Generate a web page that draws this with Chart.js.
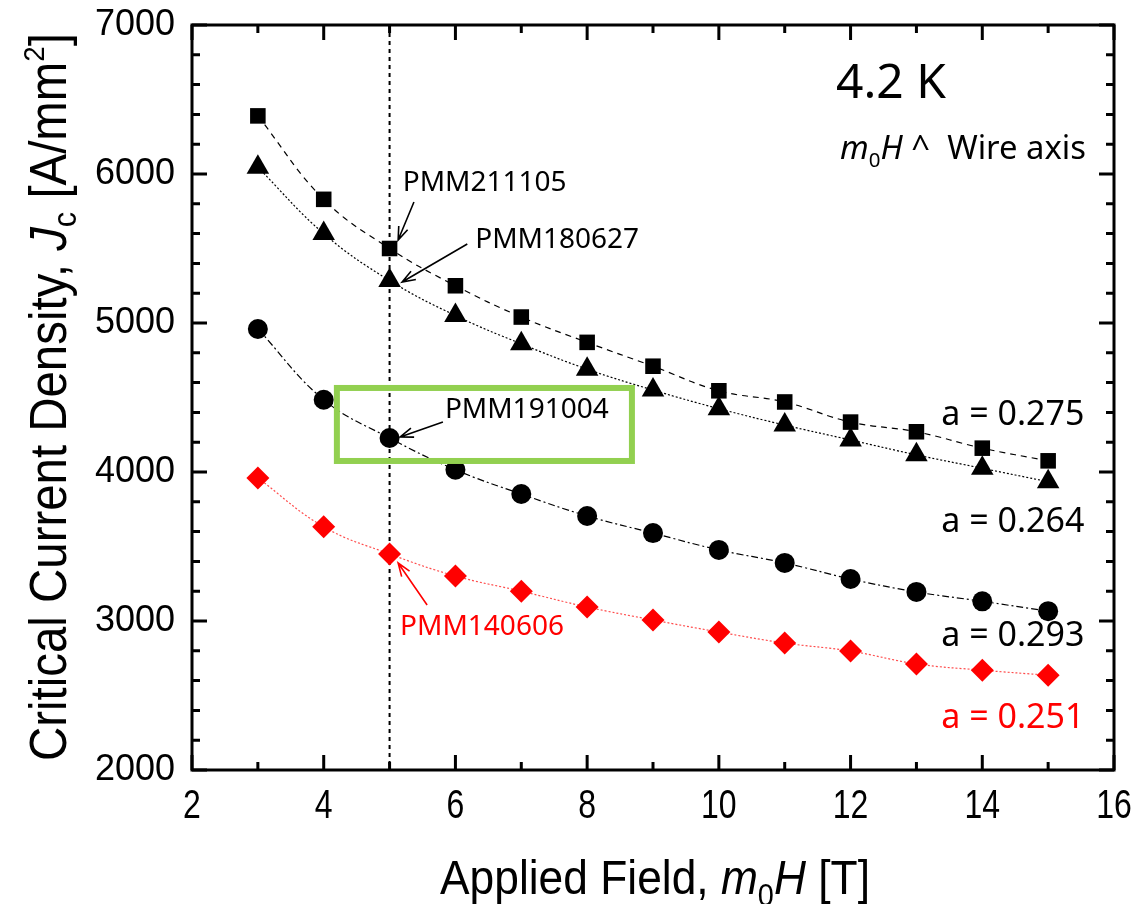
<!DOCTYPE html>
<html>
<head>
<meta charset="utf-8">
<script src="https://cdn.jsdelivr.net/npm/chart.js@4"></script>
<style>
  html, body { margin: 0; padding: 0; background: #fff; }
  #wrap { width: 1140px; height: 904px; }
</style>
</head>
<body>
<div id="wrap"><canvas id="grafico" width="1140" height="904"></canvas></div>
<script>
// Campo aplicado (T)
const campo = [3, 4, 5, 6, 7, 8, 9, 10, 11, 12, 13, 14, 15];

// Jc (A/mm2) de cada fio
const pmm211105 = [6390, 5830, 5500, 5250, 5040, 4870, 4710, 4545, 4470, 4335, 4270, 4160, 4075];
const pmm180627 = [6045, 5600, 5285, 5050, 4860, 4690, 4550, 4425, 4315, 4215, 4115, 4025, 3935];
const pmm191004 = [4960, 4485, 4228, 4015, 3852, 3705, 3590, 3477, 3390, 3282, 3195, 3132, 3066];
const pmm140606 = [3960, 3632, 3450, 3302, 3200, 3094, 3007, 2926, 2852, 2798, 2712, 2670, 2636];

// Rótulos de alfa à direita
const alfaTextos = ['a = 0.275', 'a = 0.264', 'a = 0.293', 'a = 0.251'];
const alfaY = [4383, 3664, 2899, 2349];
const alfaCores = ['#000', '#000', '#000', '#ff0000'];

const xTicks = [2, 4, 6, 8, 10, 12, 14, 16];
const yTicks = [2000, 3000, 4000, 5000, 6000, 7000];

function pontos(ys) {
    return campo.map((x, i) => ({ x: x, y: ys[i] }));
}

// Desenha texto com partes em itálico / subscrito (centrado em x)
function desenharPartes(ctx, partes, x, y, larguraAlvo) {
    let total = 0;
    partes.forEach(p => { ctx.font = p.font; p.w = ctx.measureText(p.t).width; total += p.w; });
    const esc = larguraAlvo ? larguraAlvo / total : 1;
    ctx.save();
    ctx.translate(x, y);
    ctx.scale(esc, 1);
    let cx = -total / 2;
    partes.forEach(p => {
        ctx.font = p.font;
        ctx.fillStyle = p.cor || '#000';
        ctx.textAlign = 'left';
        ctx.textBaseline = 'alphabetic';
        ctx.fillText(p.t, cx, p.dy || 0);
        cx += p.w;
    });
    ctx.restore();
}

function seta(ctx, x1, y1, x2, y2, cor) {
    const ang = Math.atan2(y2 - y1, x2 - x1);
    const L = 14, a = 0.35;
    ctx.save();
    ctx.strokeStyle = cor;
    ctx.lineWidth = 1.6;
    ctx.setLineDash([]);
    ctx.beginPath();
    ctx.moveTo(x1, y1); ctx.lineTo(x2, y2);
    ctx.moveTo(x2 - L * Math.cos(ang - a), y2 - L * Math.sin(ang - a));
    ctx.lineTo(x2, y2);
    ctx.lineTo(x2 - L * Math.cos(ang + a), y2 - L * Math.sin(ang + a));
    ctx.stroke();
    ctx.restore();
}

const anotacoes = [
    { t: 'PMM211105', x: 5.20, y: 5940, de: [5.37, 5812], para: [5.13, 5557], cor: '#000' },
    { t: 'PMM180627', x: 6.30, y: 5557, de: [6.18, 5530], para: [5.19, 5275], cor: '#000' },
    { t: 'PMM191004', x: 5.84, y: 4416, de: [5.81, 4336], para: [5.16, 4235], cor: '#000' },
    { t: 'PMM140606', x: 5.16, y: 2960, de: [5.57, 3107], para: [5.13, 3389], cor: '#ff0000' }
];

function semPadding(s) {
    s.paddingTop = 0; s.paddingBottom = 0; s.paddingLeft = 0; s.paddingRight = 0;
}

const extras = {
    id: 'extras',
    beforeDatasetsDraw(chart) {
        const ctx = chart.ctx, xs = chart.scales.x;
        const a = chart.chartArea;
        // linha vertical em 5 T
        ctx.save();
        ctx.strokeStyle = '#000';
        ctx.lineWidth = 2;
        ctx.setLineDash([4, 4]);
        const x5 = xs.getPixelForValue(5);
        ctx.beginPath(); ctx.moveTo(x5, a.top); ctx.lineTo(x5, a.bottom); ctx.stroke();
        ctx.restore();
    },
    afterDatasetsDraw(chart) {
        const ctx = chart.ctx, xs = chart.scales.x, ys = chart.scales.y;
        const a = chart.chartArea;

        // caixa verde
        ctx.save();
        ctx.strokeStyle = '#92d050';
        ctx.lineWidth = 6;
        const bx1 = xs.getPixelForValue(4.2), bx2 = xs.getPixelForValue(8.68);
        const by1 = ys.getPixelForValue(4564), by2 = ys.getPixelForValue(4074);
        ctx.strokeRect(bx1, by1, bx2 - bx1, by2 - by1);
        ctx.restore();

        // moldura e ticks para dentro
        ctx.save();
        ctx.strokeStyle = '#000';
        ctx.lineWidth = 3;
        ctx.strokeRect(a.left, a.top, a.right - a.left, a.bottom - a.top);
        ctx.beginPath();
        for (let v = 2; v <= 16; v += 1) {
            const px = xs.getPixelForValue(v);
            const L = v % 2 === 0 ? 15 : 8;
            ctx.moveTo(px, a.bottom); ctx.lineTo(px, a.bottom - L);
            ctx.moveTo(px, a.top); ctx.lineTo(px, a.top + L);
        }
        for (let v = 2000; v <= 7000; v += 200) {
            const py = ys.getPixelForValue(v);
            const L = v % 1000 === 0 ? 15 : 8;
            ctx.moveTo(a.left, py); ctx.lineTo(a.left + L, py);
            ctx.moveTo(a.right, py); ctx.lineTo(a.right - L, py);
        }
        ctx.stroke();
        ctx.restore();

        // rótulos do eixo x (fonte estreita)
        ctx.save();
        ctx.fillStyle = '#000';
        ctx.font = '40px "Liberation Sans", Arial, sans-serif';
        ctx.textAlign = 'center';
        ctx.textBaseline = 'alphabetic';
        xs.ticks.forEach(t => {
            ctx.save();
            ctx.translate(xs.getPixelForValue(t.value), 818);
            ctx.scale(0.8, 1);
            ctx.fillText(String(t.value), 0, 0);
            ctx.restore();
        });
        ctx.restore();

        // anotações com setas
        ctx.save();
        ctx.font = '28px "Noto Sans", "Open Sans", sans-serif';
        ctx.textBaseline = 'middle';
        ctx.textAlign = 'left';
        anotacoes.forEach(n => {
            ctx.fillStyle = n.cor;
            ctx.fillText(n.t, xs.getPixelForValue(n.x), ys.getPixelForValue(n.y));
            seta(ctx, xs.getPixelForValue(n.de[0]), ys.getPixelForValue(n.de[1]),
                 xs.getPixelForValue(n.para[0]), ys.getPixelForValue(n.para[1]), n.cor);
        });

        // alfas
        ctx.font = '34px "Noto Sans", "Open Sans", sans-serif';
        ctx.textAlign = 'right';
        alfaTextos.forEach((t, i) => {
            ctx.fillStyle = alfaCores[i];
            ctx.fillText(t, xs.getPixelForValue(15.55), ys.getPixelForValue(alfaY[i]));
        });

        // 4.2 K
        ctx.fillStyle = '#000';
        ctx.textAlign = 'left';
        ctx.font = '48px "Noto Sans", "Open Sans", sans-serif';
        ctx.fillText('4.2 K', 836, 84);
        ctx.restore();

        const f = '"Noto Sans", "Open Sans", sans-serif';
        desenharPartes(ctx, [
            { t: 'm', font: 'italic 32px ' + f },
            { t: '0', font: '20px ' + f, dy: 8 },
            { t: 'H', font: 'italic 32px ' + f },
            { t: ' ^  Wire axis', font: '32px ' + f }
        ], 963, 159, 246);

        // títulos dos eixos
        const fa = '"Liberation Sans", Arial, sans-serif';
        desenharPartes(ctx, [
            { t: 'Applied Field, ', font: '49px ' + fa },
            { t: 'm', font: 'italic 49px ' + fa },
            { t: '0', font: '32px ' + fa, dy: 12 },
            { t: 'H', font: 'italic 49px ' + fa },
            { t: ' [T]', font: '49px ' + fa }
        ], 655, 894, 430);

        ctx.save();
        ctx.translate(66, 397);
        ctx.rotate(-Math.PI / 2);
        desenharPartes(ctx, [
            { t: 'Critical Current Density, ', font: '51px ' + fa },
            { t: 'J', font: 'italic 51px ' + fa },
            { t: 'c', font: '33px ' + fa, dy: 10 },
            { t: ' [A/mm', font: '51px ' + fa },
            { t: '2', font: '30px ' + fa, dy: -22 },
            { t: ']', font: '51px ' + fa }
        ], 0, 0, 728);
        ctx.restore();
    }
};

new Chart(document.getElementById('grafico'), {
    type: 'line',
    data: {
        datasets: [
            {
                label: 'PMM211105', data: pontos(pmm211105),
                borderColor: '#000', backgroundColor: '#000', borderWidth: 1.2,
                borderDash: [6, 5], pointStyle: 'rect', pointRadius: 11, pointBorderWidth: 0, tension: 0.4
            },
            {
                label: 'PMM180627', data: pontos(pmm180627),
                borderColor: '#000', backgroundColor: '#000', borderWidth: 1.2,
                borderDash: [2, 2], pointStyle: 'triangle', pointRadius: 13, pointBorderWidth: 0, tension: 0.4
            },
            {
                label: 'PMM191004', data: pontos(pmm191004),
                borderColor: '#000', backgroundColor: '#000', borderWidth: 1.2,
                borderDash: [7, 3, 2, 3], pointStyle: 'circle', pointRadius: 10, pointBorderWidth: 0, tension: 0.4
            },
            {
                label: 'PMM140606', data: pontos(pmm140606),
                borderColor: 'rgba(255,0,0,0.7)', backgroundColor: '#ff0000', borderWidth: 1.2,
                borderDash: [2, 2], pointStyle: 'rectRot', pointRadius: 11.5, pointBorderWidth: 0, tension: 0.4
            }
        ]
    },
    options: {
        responsive: false,
        animation: false,
        layout: { padding: { top: 25, right: 26, left: 0, bottom: 0 } },
        plugins: { legend: { display: false }, tooltip: { enabled: false } },
        scales: {
            x: {
                type: 'linear', min: 2, max: 16,
                afterFit: s => { s.height = 134; semPadding(s); },
                afterBuildTicks: s => { s.ticks = xTicks.map(v => ({ value: v })); },
                grid: { display: false, drawTicks: false },
                border: { display: false },
                ticks: { display: false }
            },
            y: {
                type: 'linear', min: 2000, max: 7000,
                afterFit: s => { s.width = 192; semPadding(s); },
                afterBuildTicks: s => { s.ticks = yTicks.map(v => ({ value: v })); },
                grid: { display: false, drawTicks: false },
                border: { display: false },
                ticks: {
                    color: '#000', padding: 17,
                    callback: v => String(v),
                    font: { family: '"Liberation Sans", Arial, sans-serif', size: 36 }
                }
            }
        }
    },
    plugins: [extras]
});
</script>
</body>
</html>
